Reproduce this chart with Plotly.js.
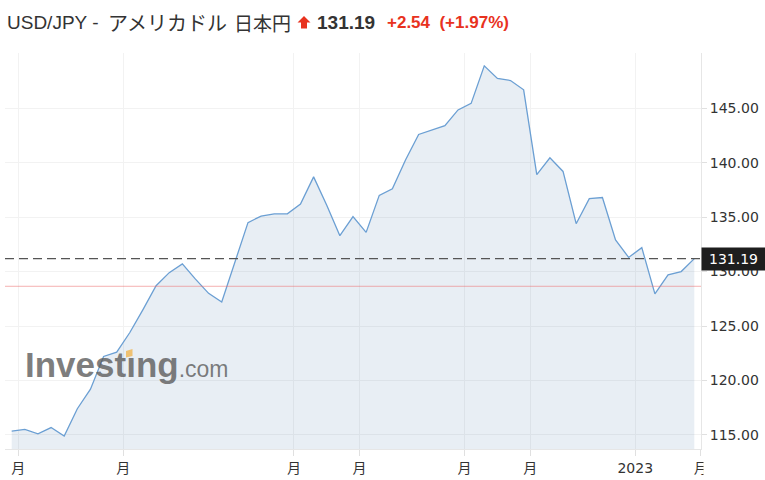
<!DOCTYPE html>
<html><head><meta charset="utf-8">
<script src="https://cdn.plot.ly/plotly-3.0.1.min.js"></script>
<style>html,body{margin:0;padding:0;background:#fff;} #chart{width:765px;height:480px;}</style>
</head><body><div id="chart"></div>
<script>
const dates = ['2022-02-04','2022-02-11','2022-02-18','2022-02-25','2022-03-04','2022-03-11','2022-03-18','2022-03-25',
  '2022-04-01','2022-04-08','2022-04-15','2022-04-22','2022-04-29','2022-05-06','2022-05-13','2022-05-20','2022-05-27',
  '2022-06-03','2022-06-10','2022-06-17','2022-06-24','2022-07-01','2022-07-08','2022-07-15','2022-07-22','2022-07-29',
  '2022-08-05','2022-08-12','2022-08-19','2022-08-26','2022-09-02','2022-09-09','2022-09-16','2022-09-23','2022-09-30',
  '2022-10-07','2022-10-14','2022-10-21','2022-10-28','2022-11-04','2022-11-11','2022-11-18','2022-11-25',
  '2022-12-02','2022-12-09','2022-12-16','2022-12-23','2022-12-30','2023-01-06','2023-01-13','2023-01-20','2023-01-27','2023-02-03'];
const closes = [115.35,115.5,115.1,115.67,114.9,117.4,119.2,122.2,
  122.6,124.4,126.5,128.7,129.9,130.7,129.3,128.0,127.2,
  130.9,134.5,135.1,135.3,135.3,136.2,138.7,136.1,133.3,
  135.05,133.6,137.0,137.6,140.25,142.6,143.0,143.4,144.85,
  145.45,148.9,147.75,147.55,146.7,138.9,140.45,139.2,
  134.4,136.7,136.8,132.9,131.3,132.2,127.95,129.7,130.0,131.19];
const tickDates = ['2022-02-07 12:00','2022-04-04 12:00','2022-07-04 12:00','2022-08-08 12:00','2022-10-03 12:00','2022-11-07 12:00','2023-01-02 12:00','2023-02-06 12:00'];
const tickLabels = ['月','月','月','月','月','月','2023','月'];
const yTicks = [115,120,125,130,135,140,145];
const yTickLabels = ['115.00','120.00','125.00','130.00','135.00','140.00','145.00'];
const lastPrice = 131.19;
const prevClose = 128.65;
const lastLabel = '131.19';
const changeText = '+2.54';
const changePctText = '(+1.97%)';
const titleParts = ['USD/JPY -', 'アメリカドル', '日本円'];

const W = 765, H = 480;
const M = {l:5, r:64, t:53, b:31};
const pw = W - M.l - M.r, ph = H - M.t - M.b;
const px = p => (p - M.l) / pw;
const py = p => (H - M.b - p) / ph;
const pathPx = pts => 'M' + pts.map(q => px(q[0]) + ',' + py(q[1])).join(' L') + ' Z';

const trace = {
  x: dates, y: closes, type: 'scatter', mode: 'lines',
  line: {color: '#6b9fd3', width: 1.3},
  fill: 'tozeroy', fillcolor: 'rgba(69,114,167,0.12)',
  hoverinfo: 'skip'
};

const titleFont = {family: 'Liberation Sans, Noto Sans CJK JP', size: 19, color: '#333'};

const layout = {
  width: W, height: H,
  margin: M,
  paper_bgcolor: '#fff', plot_bgcolor: '#fff',
  showlegend: false,
  xaxis: {
    type: 'date', range: ['2022-01-31 10:19', '2023-02-06 13:41'],
    tickmode: 'array', tickvals: tickDates, ticktext: tickLabels,
    ticks: 'outside', ticklen: 6, tickcolor: '#e0e0e0',
    showline: true, linecolor: '#e6e6e6', linewidth: 1,
    showgrid: true, gridcolor: '#f2f2f2', zeroline: false,
    tickfont: {family: 'DejaVu Sans, Noto Sans CJK JP', size: 14, color: '#333'}
  },
  yaxis: {
    side: 'right', range: [113.7, 150.08],
    tickmode: 'array', tickvals: yTicks, ticktext: yTickLabels,
    ticks: 'outside', ticklen: 5, tickcolor: '#e0e0e0',
    showline: true, linecolor: '#e6e6e6', linewidth: 1,
    showgrid: true, gridcolor: '#f2f2f2', zeroline: false,
    tickfont: {family: 'DejaVu Sans', size: 14, color: '#333'}
  },
  shapes: [
    {type: 'line', xref: 'paper', yref: 'y', x0: 0, x1: 1, y0: prevClose, y1: prevClose,
     line: {color: 'rgba(235,110,110,0.55)', width: 1}, layer: 'above'},
    {type: 'line', xref: 'paper', yref: 'y', x0: 0, x1: 1, y0: lastPrice, y1: lastPrice,
     line: {color: '#555', width: 1.2, dash: '9px,5px'}, layer: 'above'},
    {type: 'path', xref: 'paper', yref: 'paper', layer: 'above',
     path: pathPx([[304,16],[310.5,22.5],[307,22.5],[307,28.5],[301,28.5],[301,22.5],[297.5,22.5]]),
     fillcolor: '#e8321e', line: {width: 0}},
    {type: 'path', xref: 'paper', yref: 'paper', layer: 'above',
     path: pathPx([[126,351],[132.5,349],[132.5,356],[126,357.5]]),
     fillcolor: 'rgba(240,185,90,0.85)', line: {width: 0}}
  ],
  annotations: [
    {xref: 'paper', yref: 'paper', x: px(5), y: py(22), xanchor: 'left', yanchor: 'middle', showarrow: false,
     text: titleParts[0], font: titleFont},
    {xref: 'paper', yref: 'paper', x: px(106), y: py(22), xanchor: 'left', yanchor: 'middle', showarrow: false,
     text: titleParts[1], font: {family: 'Noto Sans CJK JP', size: 20, color: '#333'}},
    {xref: 'paper', yref: 'paper', x: px(232), y: py(22), xanchor: 'left', yanchor: 'middle', showarrow: false,
     text: titleParts[2], font: {family: 'Noto Sans CJK JP', size: 19, color: '#333'}},
    {xref: 'paper', yref: 'paper', x: px(315), y: py(22), xanchor: 'left', yanchor: 'middle', showarrow: false,
     text: '<b>' + lastLabel + '</b>', font: {family: 'Liberation Sans', size: 19, color: '#333'}},
    {xref: 'paper', yref: 'paper', x: px(385), y: py(22), xanchor: 'left', yanchor: 'middle', showarrow: false,
     text: '<b>' + changeText + '  ' + changePctText + '</b>', font: {family: 'Liberation Sans', size: 17, color: '#e8321e'}},
    {xref: 'paper', yref: 'paper', x: px(23), y: py(364), xanchor: 'left', yanchor: 'middle', showarrow: false,
     text: '<b>Invest\u0131ng</b><span style="font-size:23px">.com</span>',
     font: {family: 'Liberation Sans', size: 35, color: 'rgba(90,90,90,0.78)'}},
    {xref: 'paper', yref: 'paper', x: px(702.5), y: py(457), xanchor: 'left', yanchor: 'top', showarrow: false,
     text: ' ', bgcolor: '#fff', width: 14, height: 20, borderpad: 0},
    {xref: 'paper', yref: 'y', x: 1, y: lastPrice, xanchor: 'left', yanchor: 'middle', showarrow: false,
     text: lastLabel, bgcolor: '#1e1e1e', width: 59, height: 18, borderpad: 2,
     font: {family: 'DejaVu Sans', size: 14, color: '#fff'}}
  ]
};

Plotly.newPlot('chart', [trace], layout, {staticPlot: true, displayModeBar: false});
</script>
</body></html>
